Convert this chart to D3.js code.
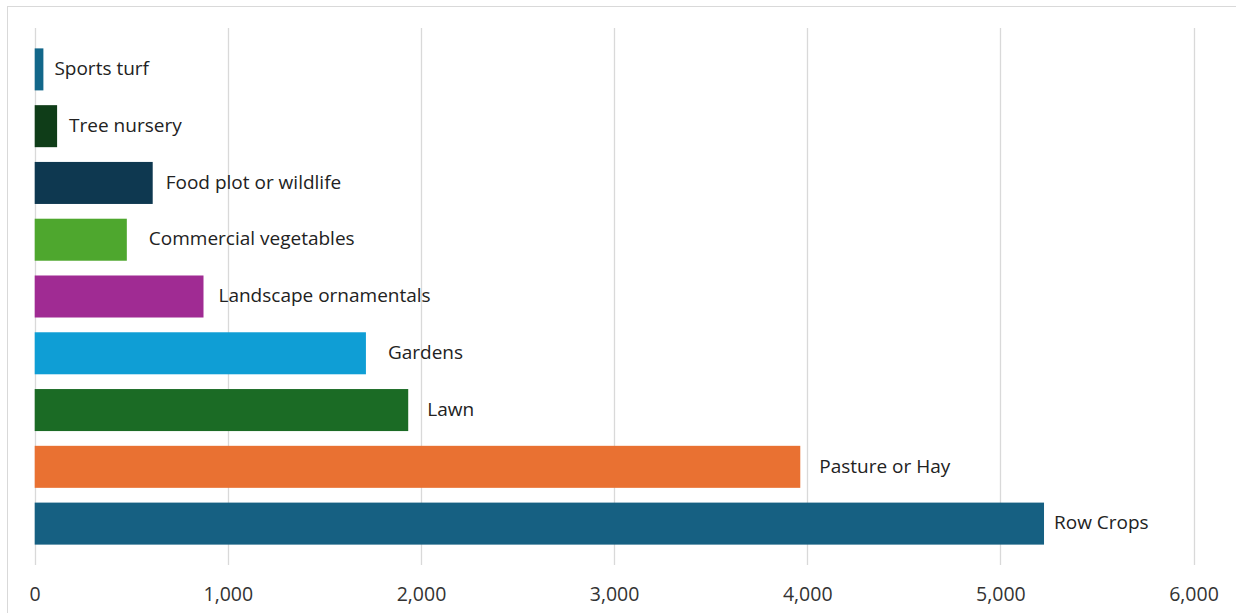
<!DOCTYPE html>
<html>
<head>
<meta charset="utf-8">
<script src="https://cdn.jsdelivr.net/npm/d3@7/dist/d3.min.js"></script>
<style>
  html, body { margin: 0; padding: 0; background: #fff; }
  svg { display: block; }
</style>
</head>
<body>
<svg id="chart" width="1236" height="613"></svg>
<script>
// Acres by land use, top to bottom
const categories = [
  "Sports turf", "Tree nursery", "Food plot or wildlife", "Commercial vegetables",
  "Landscape ornamentals", "Gardens", "Lawn", "Pasture or Hay", "Row Crops"
];
const values = [45, 116, 611, 477, 874, 1715, 1934, 3964, 5226];
const barColors = [
  "#12678a", "#0f3d18", "#0e3850", "#4ea72e",
  "#a02b93", "#0f9ed5", "#1b6b25", "#e97132", "#166082"
];
const tickValues = [0, 1000, 2000, 3000, 4000, 5000, 6000];
// extra gap (px) between each bar end and its label
const labelGap = [11, 12, 13, 22, 15, 22, 19, 19, 10];

const svg = d3.select("#chart");
const W = 1236, H = 613;

// light frame around the chart area
svg.append("rect")
  .attr("x", 7.5).attr("y", 6.5)
  .attr("width", W + 10).attr("height", H + 10)
  .attr("fill", "none").attr("stroke", "#d9d9d9").attr("stroke-width", 1);

const x = d3.scaleLinear().domain([0, 6000]).range([34.7, 1193.5]);
const y = d3.scaleBand().domain(categories).range([41, 552]).paddingInner(0.26).paddingOuter(0.13);

const gridTop = 28, gridBottom = 565;

// vertical gridlines
svg.append("g")
  .selectAll("line")
  .data(tickValues)
  .join("line")
  .attr("x1", d => Math.round(x(d)) + 0.5)
  .attr("x2", d => Math.round(x(d)) + 0.5)
  .attr("y1", gridTop).attr("y2", gridBottom)
  .attr("stroke", "#d9d9d9").attr("stroke-width", 1.3);

// x-axis tick labels
const axis = d3.axisBottom(x)
  .tickValues(tickValues)
  .tickFormat(d3.format(","))
  .tickSize(0)
  .tickPadding(0);
const gAxis = svg.append("g")
  .attr("transform", `translate(0, 594)`)
  .call(axis);
gAxis.select(".domain").remove();
gAxis.selectAll("text")
  .attr("font-family", "'Open Sans', sans-serif")
  .attr("font-size", 19.5)
  .attr("fill", "#333333")
  .attr("dy", "0.35em");

// bars
svg.append("g")
  .selectAll("rect")
  .data(values)
  .join("rect")
  .attr("x", x(0))
  .attr("y", (d, i) => y(categories[i]))
  .attr("width", d => x(d) - x(0))
  .attr("height", y.bandwidth())
  .attr("fill", (d, i) => barColors[i]);

// category labels to the right of each bar
svg.append("g")
  .selectAll("text")
  .data(values)
  .join("text")
  .attr("x", (d, i) => x(d) + labelGap[i])
  .attr("y", (d, i) => y(categories[i]) + y.bandwidth() / 2)
  .attr("dy", "0.3em")
  .attr("font-family", "'Open Sans', sans-serif")
  .attr("font-size", 19)
  .attr("fill", "#222222")
  .text((d, i) => categories[i]);
</script>
</body>
</html>
